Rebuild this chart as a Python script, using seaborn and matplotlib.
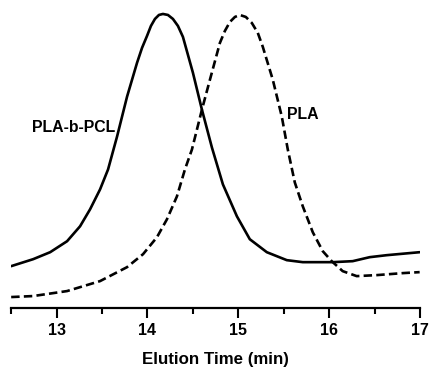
import matplotlib
matplotlib.use("Agg")
import matplotlib.pyplot as plt
import seaborn as sns
import pandas as pd

# GPC traces (intensity in arbitrary units)
copolymer_time = [12.500, 12.742, 12.929, 13.115, 13.258, 13.368, 13.478, 13.566, 13.665, 13.775,
                  13.885, 13.940, 13.995, 14.038, 14.082, 14.126, 14.170, 14.225, 14.280, 14.335,
                  14.390, 14.445, 14.500, 14.599, 14.709, 14.830, 14.984, 15.126, 15.313, 15.533,
                  15.709, 16.038, 16.258, 16.445, 16.632, 16.995]
copolymer_signal = [42, 49, 56, 67, 82, 99, 119, 139, 172, 212,
                    246, 261, 273, 283, 290, 294, 295, 294, 290, 283,
                    272, 254, 236, 199, 161, 124, 92, 69, 56, 48,
                    46, 46, 47, 51, 53, 56]

pla_time = [12.500, 12.742, 13.115, 13.478, 13.775, 13.951, 14.104, 14.214, 14.324, 14.412,
            14.489, 14.599, 14.687, 14.797, 14.852, 14.907, 14.962, 15.016, 15.082, 15.148,
            15.214, 15.269, 15.379, 15.478, 15.544, 15.621, 15.709, 15.819, 15.929, 16.027,
            16.148, 16.302, 16.522, 16.808, 16.995]
pla_signal = [11, 12, 17, 27, 41, 54, 71, 89, 112, 139,
              159, 199, 229, 266, 278, 287, 292, 294, 292, 286,
              276, 262, 229, 192, 159, 126, 102, 76, 57, 47,
              37, 32, 33, 35, 36]

xticks = [13, 14, 15, 16, 17]

sns.set_style("white")
plt.rcParams['font.family'] = ['Liberation Sans', 'DejaVu Sans']
plt.rcParams['text.color'] = 'black'
plt.rcParams['xtick.color'] = 'black'
plt.rcParams['axes.labelcolor'] = 'black'
plt.rcParams['lines.solid_joinstyle'] = 'round'
plt.rcParams['lines.dash_joinstyle'] = 'round'

df1 = pd.DataFrame({"time": copolymer_time, "signal": copolymer_signal})
df2 = pd.DataFrame({"time": pla_time, "signal": pla_signal})

fig = plt.figure(figsize=(4.3, 3.72), dpi=100)
ax = fig.add_axes([0.026, 0.172, 0.951, 0.828])

sns.lineplot(data=df1, x="time", y="signal", ax=ax, color="black", lw=1.9)
sns.lineplot(data=df2, x="time", y="signal", ax=ax, color="black", lw=1.9,
             linestyle=(0, (3.2, 1.6)))

ax.text(12.73, 181, "PLA-b-PCL", fontsize=11.4, fontweight="bold", va="center", ha="left")
ax.text(15.53, 194, "PLA", fontsize=11.4, fontweight="bold", va="center", ha="left")

ax.set_xlim(12.5, 17)
ax.set_ylim(0, 309)
ax.set_xticks(xticks)
ax.set_xticks([12.5, 13.5, 14.5, 15.5, 16.5], minor=True)
ax.set_xticklabels([str(t) for t in xticks], fontsize=11.5, fontweight="bold")
ax.tick_params(axis="x", which="major", direction="out", length=7, width=1.5, pad=4, bottom=True)
ax.tick_params(axis="x", which="minor", direction="out", length=4, width=1.5, bottom=True)
ax.set_yticks([])
ax.set_ylabel("")
ax.set_xlabel("Elution Time (min)", fontsize=12.2, fontweight="bold", labelpad=10)

for side in ["top", "right", "left"]:
    ax.spines[side].set_visible(False)
ax.spines["bottom"].set_linewidth(1.6)
ax.spines["bottom"].set_color("black")

fig.savefig("out.png", dpi=100)
